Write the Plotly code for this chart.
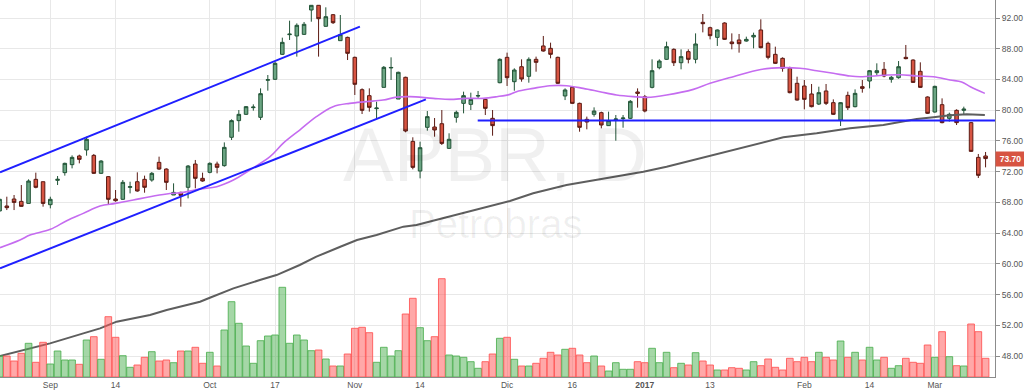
import plotly.graph_objects as go

# ---- data (daily candles, APBR, index 0 = 1 Sep 2016) ----
bar_index = list(range(-7, 130))

open_ = [66.88, 67.53, 68.44, 68.13, 67.87, 71.00, 70.69,
         67.70, 70.87, 71.87, 72.91, 74.04, 74.82, 74.12, 71.78, 71.35, 68.44,
         68.40, 69.96, 70.69, 71.00, 70.91, 73.21, 72.34, 68.96, 69.30, 69.96,
         72.99, 71.13, 71.91, 72.99, 72.78, 76.47, 78.64, 79.46, 80.33, 79.07,
         83.90, 84.02, 87.27, 89.83, 89.66, 89.87, 93.04, 93.65, 90.92, 92.43,
         89.05, 89.48, 86.88, 82.67, 81.89, 80.20, 82.97, 85.50, 81.45, 84.28,
         75.94, 72.08, 77.77, 77.81, 78.24, 75.03, 79.07, 80.89, 80.76, 81.85,
         81.41, 78.94, 83.58, 86.88, 83.71, 85.66, 84.41, 86.62, 88.36, 88.05,
         86.88, 81.85, 82.97, 80.89, 78.81, 79.46, 79.68, 77.99, 78.77, 78.90,
         78.94, 82.37, 81.76, 82.97, 85.53, 86.62, 87.92, 86.18, 87.62, 86.62,
         91.44, 90.74, 89.48, 91.35, 88.88, 89.14, 89.00, 89.53, 90.44, 88.70,
         87.27, 86.75, 85.45, 83.50, 83.15, 82.11, 80.80, 82.50, 80.98, 78.72,
         81.93, 80.46, 83.06, 83.80, 84.88, 85.32, 84.02, 84.23, 86.88, 86.53,
         85.06, 81.72, 79.76, 80.72, 78.94, 79.98, 79.98, 78.38, 73.86, 74.04]
high = [68.52, 68.74, 68.96, 70.26, 71.00, 71.87, 70.69,
        68.74, 71.43, 73.17, 74.12, 74.21, 76.55, 74.30, 73.50, 71.43, 69.61,
        70.91, 70.69, 71.91, 71.48, 71.95, 73.95, 72.43, 70.48, 69.39, 72.86,
        73.52, 71.87, 73.21, 73.30, 75.81, 78.81, 80.02, 80.54, 80.76, 82.84,
        84.58, 86.30, 89.44, 91.65, 91.30, 91.48, 93.69, 93.69, 93.39, 92.52,
        92.39, 89.57, 86.97, 82.84, 82.84, 81.11, 85.75, 86.88, 85.01, 84.36,
        76.47, 75.90, 79.89, 78.98, 80.02, 76.99, 79.94, 82.41, 82.28, 82.50,
        81.50, 80.02, 86.75, 87.49, 85.45, 86.62, 86.88, 86.97, 89.66, 88.79,
        86.97, 82.84, 83.15, 80.98, 79.16, 80.37, 79.81, 79.81, 79.37, 79.37,
        81.32, 82.84, 81.98, 86.62, 86.62, 88.92, 88.05, 87.92, 87.92, 90.00,
        92.52, 90.87, 90.52, 91.44, 90.00, 89.92, 89.57, 90.09, 91.83, 88.92,
        88.27, 86.88, 85.66, 84.36, 83.93, 83.41, 83.06, 83.41, 81.41, 81.06,
        82.41, 82.71, 83.93, 85.23, 86.10, 86.27, 84.45, 86.40, 88.49, 86.62,
        86.23, 81.80, 83.19, 81.54, 79.68, 80.11, 80.46, 78.46, 74.30, 74.56]
low = [66.80, 67.00, 67.00, 67.44, 67.87, 69.83, 67.44,
       67.22, 70.26, 71.48, 72.43, 73.08, 74.08, 71.69, 71.70, 67.66, 68.09,
       68.31, 69.17, 69.39, 69.26, 70.69, 72.21, 69.61, 68.96, 67.44, 68.52,
       69.83, 70.69, 71.78, 71.78, 72.65, 76.12, 77.20, 79.37, 79.94, 78.72,
       82.54, 83.93, 87.18, 89.14, 86.97, 89.79, 91.52, 86.97, 90.87, 91.22,
       89.05, 86.53, 81.98, 79.50, 79.81, 78.94, 82.97, 83.93, 81.45, 77.12,
       72.30, 71.13, 77.33, 76.55, 75.47, 74.95, 78.38, 79.59, 80.02, 81.54,
       79.37, 76.68, 83.50, 83.15, 82.54, 83.71, 83.58, 85.01, 87.62, 86.75,
       83.41, 81.32, 80.80, 77.20, 77.51, 79.16, 77.64, 77.94, 76.03, 77.72,
       78.85, 80.33, 79.72, 82.84, 85.32, 86.53, 85.75, 85.32, 86.10, 86.10,
       90.13, 89.22, 88.36, 89.14, 87.92, 87.49, 88.92, 88.05, 88.05, 86.62,
       86.01, 85.01, 82.19, 81.24, 80.11, 80.37, 80.67, 80.67, 79.37, 77.94,
       80.02, 80.37, 82.28, 82.84, 84.58, 84.28, 83.58, 84.10, 86.62, 83.54,
       82.89, 79.50, 79.68, 78.29, 78.51, 78.07, 79.37, 74.56, 71.17, 72.56]
close = [68.40, 67.31, 68.00, 67.48, 70.78, 69.96, 67.87,
         68.40, 71.00, 73.08, 73.86, 73.60, 76.21, 71.78, 73.38, 68.40, 68.22,
         70.61, 70.04, 69.48, 69.96, 71.78, 72.34, 70.61, 69.30, 68.91, 72.73,
         71.13, 70.78, 73.08, 72.56, 75.16, 78.64, 79.46, 80.46, 80.40, 82.15,
         83.97, 86.10, 88.83, 89.90, 91.05, 91.18, 93.65, 91.91, 92.17, 91.39,
         89.83, 87.40, 83.37, 79.98, 80.37, 80.28, 85.58, 85.56, 84.93, 77.29,
         72.56, 75.12, 79.16, 77.42, 75.68, 76.21, 79.72, 81.89, 81.41, 81.89,
         80.24, 77.99, 86.62, 84.23, 85.23, 84.06, 86.62, 86.23, 87.70, 87.27,
         83.50, 82.63, 80.89, 77.77, 78.46, 79.89, 78.07, 78.64, 78.85, 78.98,
         81.15, 82.19, 79.89, 85.14, 86.40, 88.27, 86.18, 86.97, 86.62, 88.62,
         91.26, 89.70, 90.44, 89.22, 88.66, 88.66, 89.22, 89.74, 88.14, 86.88,
         86.10, 85.45, 82.28, 81.32, 81.41, 80.46, 82.28, 80.89, 79.46, 80.98,
         80.33, 82.19, 82.84, 85.14, 85.14, 84.45, 84.28, 85.66, 86.71, 83.62,
         82.97, 79.59, 83.10, 78.38, 79.46, 78.38, 80.15, 74.64, 71.52, 73.70]
volume_k = [210, 210, 160, 237, 337, 147, 347,
            130, 260, 170, 170, 127, 370, 403, 177, 603, 397,
            213, 97, 120, 197, 253, 160, 170, 143, 260, 260,
            297, 137, 247, 110, 470, 753, 537, 310, 137, 363,
            410, 420, 897, 337, 420, 370, 263, 270, 180, 110,
            110, 230, 487, 497, 443, 147, 297, 210, 263, 630,
            787, 493, 363, 403, 983, 220, 210, 197, 153, 87,
            153, 230, 387, 397, 177, 110, 110, 137, 187, 247,
            220, 277, 287, 220, 143, 210, 110, 60, 143, 77,
            77, 153, 143, 287, 143, 247, 93, 137, 120, 243,
            160, 120, 70, 70, 93, 87, 70, 153, 113, 180,
            97, 70, 187, 153, 197, 153, 247, 197, 170, 360,
            197, 247, 170, 297, 170, 197, 87, 113, 187, 147,
            137, 320, 197, 453, 203, 113, 110, 530, 453, 187]

# moving averages (bar index, price)
ma_fast_idx = [-6.94, -4.18, -2.8, 0, 2.26, 4.55, 6.86, 8.97, 11.45, 13.75, 16.05, 18.35,
               20.65, 22.95, 25.25, 27.5, 30.3, 32.1, 34.4, 36.7, 39.0, 41.3, 43.6, 45.9,
               47.8, 49.6, 52.8, 55.1, 57.4, 59.7, 61.6, 63.4, 64.3, 66.6, 68.9, 71.2,
               73.5, 75.8, 78.1, 80.4, 82.3, 85.0, 88.7, 91.0, 94.2, 98.0, 101.1, 103.4,
               105.7, 108.0, 110.3, 111.7, 114.9, 117.2, 119.5, 121.8, 124.1, 125.7,
               126.9, 128.9]
ma_fast_val = [62.10, 63.10, 63.75, 64.49, 65.62, 66.57, 67.53, 67.87, 68.31, 68.74, 69.09,
               69.30, 69.74, 70.04, 70.91, 72.21, 73.95, 75.68, 77.42, 79.16, 80.46, 80.89,
               81.11, 81.32, 81.70, 81.76, 81.54, 81.41, 81.54, 81.54, 81.76, 82.06, 82.41,
               82.84, 83.19, 83.19, 82.84, 82.41, 81.98, 81.76, 81.67, 81.98, 82.71, 83.50,
               84.36, 85.30, 85.54, 85.45, 85.14, 84.80, 84.45, 84.36, 84.54, 84.62, 84.45,
               84.36, 83.93, 83.67, 83.06, 82.19]
ma_slow_idx = [-6.94, -0.04, 4.55, 6.86, 9.15, 13.75, 16.05, 20.65, 22.0, 25.25, 28.9, 31.2,
               34.4, 36.7, 40.0, 42.3, 45.0, 48.7, 50.5, 55.1, 59.7, 63.4, 66.6, 71.2, 75.8,
               81.8, 85.0, 89.6, 94.2, 97.9, 101.1, 105.7, 110.3, 114.9, 117.2, 119.5,
               121.8, 124.1, 126.4, 128.9]
ma_slow_val = [48.00, 49.65, 50.95, 51.60, 52.47, 53.34, 53.99, 55.07, 55.59, 56.80, 57.89,
               58.54, 59.85, 60.93, 62.23, 63.10, 63.75, 64.84, 65.05, 66.14, 67.22, 68.18,
               69.18, 70.26, 71.00, 71.99, 72.65, 73.73, 74.82, 75.77, 76.47, 76.99, 77.64,
               78.07, 78.51, 78.85, 79.07, 79.33, 79.46, 79.37]

# hand-drawn trend lines (bar index, price)
channel_upper_idx = [-6.94, 42.7]
channel_upper_val = [71.91, 90.87]
channel_lower_idx = [-6.94, 51.8]
channel_lower_val = [59.41, 81.41]
support_idx = [58.95, 130.3]
support_val = [78.65, 78.65]

tick_pos = [0, 9, 22, 31, 42, 51, 63, 72, 82, 91, 104, 113, 122]
tick_text = ["Sep", "14", "Oct", "17", "Nov", "14", "Dic", "16", "<b>2017</b>", "13",
             "Feb", "14", "Mar"]
price_ticks = [48, 52, 56, 60, 64, 68, 72, 76, 80, 84, 88, 92]
last_price = 73.70

# ---- figure ----
UP_FILL, UP_LINE = "#6ba583", "#225437"
DN_FILL, DN_LINE = "#d75442", "#5b1a13"
FONT = "Liberation Sans, Arial, sans-serif"

vol_fill = ["rgba(76,175,80,0.5)" if c >= o else "rgba(255,82,82,0.5)"
            for o, c in zip(open_, close)]
vol_line = ["rgba(76,175,80,0.85)" if c >= o else "rgba(255,82,82,0.85)"
            for o, c in zip(open_, close)]

fig = go.Figure()
fig.add_trace(go.Bar(x=bar_index, y=volume_k, yaxis="y2",
                     marker=dict(color=vol_fill, line=dict(color=vol_line, width=1)),
                     showlegend=False, hoverinfo="skip"))
fig.add_trace(go.Scatter(x=ma_slow_idx, y=ma_slow_val, mode="lines",
                         line=dict(color="#5e5e5e", width=2), showlegend=False))
fig.add_trace(go.Scatter(x=ma_fast_idx, y=ma_fast_val, mode="lines",
                         line=dict(color="#c56cf0", width=1.6, shape="spline"),
                         showlegend=False))
fig.add_trace(go.Candlestick(x=bar_index, open=open_, high=high, low=low, close=close,
                             increasing=dict(fillcolor=UP_FILL, line=dict(color=UP_LINE, width=1)),
                             decreasing=dict(fillcolor=DN_FILL, line=dict(color=DN_LINE, width=1)),
                             showlegend=False))
for xs, ys in [(channel_upper_idx, channel_upper_val),
               (channel_lower_idx, channel_lower_val),
               (support_idx, support_val)]:
    fig.add_trace(go.Scatter(x=xs, y=ys, mode="lines",
                             line=dict(color="#1f1fff", width=2), showlegend=False))

fig.update_layout(
    width=1024, height=392,
    margin=dict(l=0, r=29, t=0, b=15, autoexpand=False),
    paper_bgcolor="white", plot_bgcolor="white",
    font=dict(family=FONT, size=8.5, color="#555555"),
    showlegend=False, bargap=0.08, boxgap=0.3,
    xaxis=dict(range=[-6.94, 130.3], tickvals=tick_pos, ticktext=tick_text,
               showgrid=True, gridcolor="#e8e8e8", gridwidth=1, zeroline=False,
               showline=True, linecolor="#8c8c8c", linewidth=1, ticks="",
               tickfont=dict(size=8.5, color="#555555"),
               rangeslider=dict(visible=False), fixedrange=True, automargin=False),
    yaxis=dict(range=[45.27, 94.343], side="right", tickvals=price_ticks,
               tickformat=".2f", showgrid=True, gridcolor="#e8e8e8", gridwidth=1,
               zeroline=False, showline=True, linecolor="#8c8c8c", linewidth=1,
               ticks="outside", ticklen=4, tickcolor="#8c8c8c",
               tickfont=dict(size=8.5, color="#555555"), automargin=False),
    yaxis2=dict(range=[0, 3770], overlaying="y", visible=False),
    annotations=[
        dict(text="APBR, D", xref="paper", yref="paper", x=0.4975, y=0.59,
             xanchor="center", yanchor="middle", showarrow=False,
             font=dict(size=76, color="rgba(0,0,0,0.06)", family=FONT)),
        dict(text="Petrobras", xref="paper", yref="paper", x=0.4975, y=0.405,
             xanchor="center", yanchor="middle", showarrow=False,
             font=dict(size=40, color="rgba(0,0,0,0.06)", family=FONT)),
        dict(text=f"<b>{last_price:.2f}</b>", xref="paper", yref="y", x=1.0, y=last_price,
             xanchor="left", yanchor="middle", showarrow=False, bgcolor="#d75442",
             borderpad=2, width=25, font=dict(size=8.5, color="white", family=FONT)),
    ],
)

fig.write_html("out.html", config={"displayModeBar": False})

# remove the browser's default 8px body margin so the chart sits at the page origin
with open("out.html", "r", encoding="utf-8") as f:
    page = f.read()
page = page.replace("<head>", "<head><style>html,body{margin:0;padding:0;overflow:hidden;}</style>", 1)
with open("out.html", "w", encoding="utf-8") as f:
    f.write(page)
